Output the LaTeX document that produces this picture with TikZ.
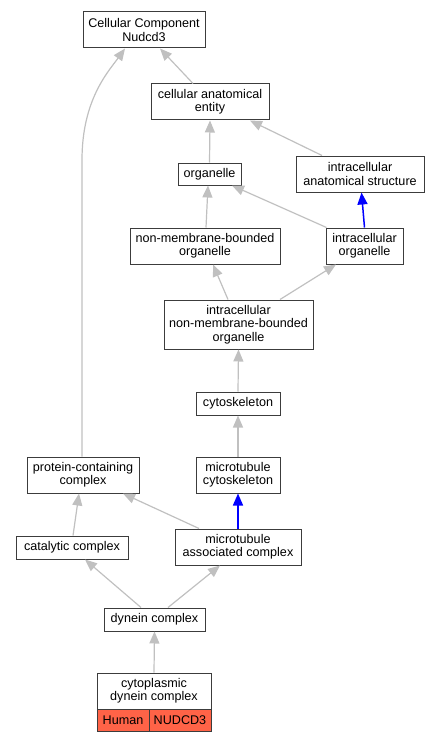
\documentclass[tikz,border=0pt]{standalone}
\usepackage{fontspec}
\setmainfont{Liberation Sans}
\usetikzlibrary{arrows.meta}
\definecolor{edgegray}{RGB}{192,192,192}
\definecolor{boxline}{RGB}{60,60,60}
\definecolor{hitred}{RGB}{255,99,71}
\begin{document}
\begin{tikzpicture}[x=1pt,y=-1pt,
  term/.style={draw=boxline,line width=1pt,fill=white,inner sep=0pt,align=center,
    font=\fontsize{12.6pt}{13.3pt}\selectfont},
  hit/.style={term,fill=hitred},
  edge/.style={draw=edgegray,line width=1.2pt,-{Triangle[length=12pt,width=10pt]}},
  isa/.style={draw=blue,line width=1.5pt,-{Triangle[length=12pt,width=10pt]}}]
\useasboundingbox (0,0) rectangle (440,741);
\node[term,minimum width=122pt,minimum height=36pt] (cc) at (144,30) {Cellular Component\\Nudcd3};
\node[term,minimum width=118pt,minimum height=36pt] (cae) at (210,102) {cellular anatomical\\entity};
\node[term,minimum width=63pt,minimum height=22pt] (org) at (209.5,174) {organelle};
\node[term,minimum width=128pt,minimum height=36pt] (ias) at (360,174) {intracellular\\anatomical structure};
\node[term,minimum width=150pt,minimum height=36pt] (nmbo) at (205,246) {non-membrane-bounded\\organelle};
\node[term,minimum width=77pt,minimum height=36pt] (io) at (364.5,246) {intracellular\\organelle};
\node[term,minimum width=149pt,minimum height=49pt] (inmbo) at (238.5,324.5) {intracellular\\non-membrane-bounded\\organelle};
\node[term,minimum width=84pt,minimum height=23pt] (cyto) at (238,403.5) {cytoskeleton};
\node[term,minimum width=112pt,minimum height=36pt] (pcc) at (83,475) {protein-containing\\complex};
\node[term,minimum width=84pt,minimum height=36pt] (mc) at (238,475) {microtubule\\cytoskeleton};
\node[term,minimum width=112pt,minimum height=23pt] (cat) at (72,547.5) {catalytic complex};
\node[term,minimum width=126pt,minimum height=36pt] (mac) at (238,547) {microtubule\\associated complex};
\node[term,minimum width=101pt,minimum height=23pt] (dyn) at (154.5,619.5) {dynein complex};
\node[term,minimum width=114pt,minimum height=36pt] (cyt) at (154,691) {cytoplasmic\\dynein complex};
\node[hit,minimum width=52pt,minimum height=22pt] (human) at (123,720) {Human};
\node[hit,minimum width=62pt,minimum height=22pt] (gene) at (180,720) {NUDCD3};

\draw[edge] ([xshift=-17pt]cae.north) -- ([xshift=16pt]cc.south);
\draw[edge] ([xshift=-1pt]pcc.north) -- (82,160) .. controls (82,100) and (108,72) .. ([xshift=-19pt]cc.south);
\draw[edge] (org.north) -- (cae.south);
\draw[edge] ([xshift=-38pt]ias.north) -- ([xshift=40pt]cae.south);
\draw[edge] ([xshift=1pt]nmbo.north) -- ([xshift=-1.5pt]org.south);
\draw[edge] ([xshift=1pt]io.north west) -- ([xshift=22.5pt]org.south);
\draw[isa] (io.north) -- ([xshift=1.5pt]ias.south);
\draw[edge] ([xshift=-10.5pt]inmbo.north) -- ([xshift=8pt]nmbo.south);
\draw[edge] ([xshift=41.5pt]inmbo.north) -- ([xshift=-28.5pt]io.south);
\draw[edge] (cyto.north) -- (inmbo.south);
\draw[edge] (mc.north) -- (cyto.south);
\draw[isa] (mac.north) -- (mc.south);
\draw[edge] ([xshift=-39pt]mac.north) -- ([xshift=40pt]pcc.south);
\draw[edge] ([xshift=1pt]cat.north) -- ([xshift=-4pt]pcc.south);
\draw[edge] ([xshift=-13.5pt]dyn.north) -- ([xshift=13pt]cat.south);
\draw[edge] ([xshift=13.5pt]dyn.north) -- ([xshift=-18pt]mac.south);
\draw[edge] (cyt.north) -- (dyn.south);
\end{tikzpicture}
\end{document}
